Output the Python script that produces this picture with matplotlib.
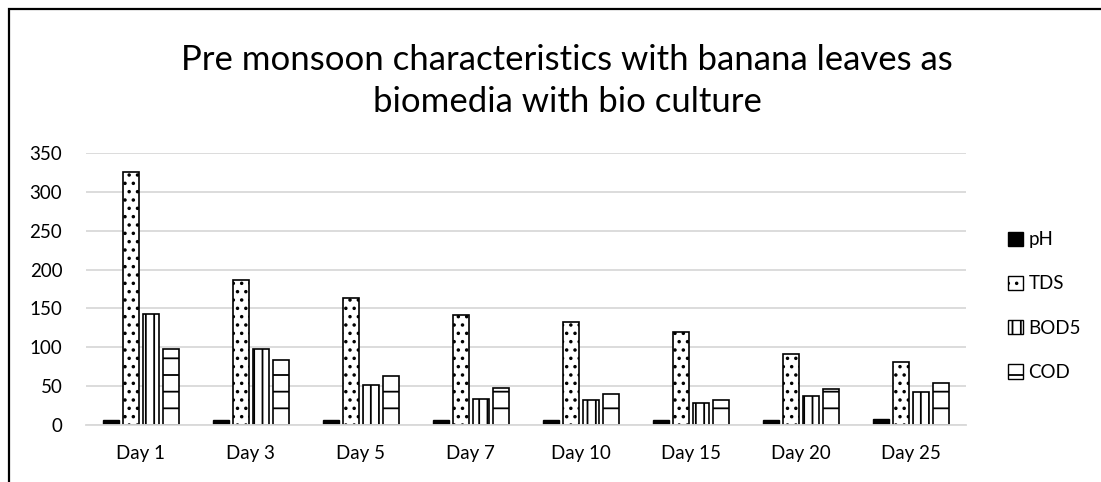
import numpy as np
import matplotlib
matplotlib.use("Agg")
import matplotlib.pyplot as plt
from matplotlib.patches import Patch, Rectangle

days = ["Day 1", "Day 3", "Day 5", "Day 7", "Day 10", "Day 15", "Day 20", "Day 25"]
ph = [7.2, 7.0, 7.0, 7.1, 7.0, 7.0, 7.1, 7.3]
tds = [325, 187, 164, 141, 133, 120, 91, 81]
bod5 = [143, 98, 52, 34, 32, 28, 37, 42]
cod = [98, 84, 63, 48, 40, 32, 47, 54]

series = [("pH", ph, ""), ("TDS", tds, ".."), ("BOD5", bod5, "||"), ("COD", cod, "-")]

plt.rcParams["font.family"] = ["Lato", "DejaVu Sans"]
plt.rcParams["hatch.linewidth"] = 1.3

fig = plt.figure(figsize=(11.01, 4.82), dpi=100)
ax = fig.add_axes([0.078, 0.118, 0.799, 0.565])

x = np.arange(len(days))
width = 0.145
step = 0.182

for i, (name, vals, hatch) in enumerate(series):
    offset = (i - 1.5) * step
    if name == "pH":
        ax.bar(x + offset, vals, width, color="black", edgecolor="black", linewidth=1.0)
    else:
        ax.bar(x + offset, vals, width, color="white", edgecolor="black",
               linewidth=1.2, hatch=hatch)

ax.set_xlim(-0.5, len(days) - 0.5)
ax.set_ylim(0, 350)
ax.set_yticks(range(0, 351, 50))
ax.set_xticks(x)
ax.set_xticklabels(days)
ax.tick_params(axis="both", length=0, labelsize=13.5)
ax.tick_params(axis="x", pad=14)
ax.tick_params(axis="y", pad=17)
ax.yaxis.grid(True, color="#d9d9d9", linewidth=1.3)
ax.set_axisbelow(True)
for side in ["top", "right", "left"]:
    ax.spines[side].set_visible(False)
ax.spines["bottom"].set_color("#d9d9d9")
ax.spines["bottom"].set_linewidth(1.3)

fig.text(0.515, 0.832, "Pre monsoon characteristics with banana leaves as\nbiomedia with bio culture",
         ha="center", va="center", fontsize=25, linespacing=1.4)

handles = []
for name, vals, hatch in series:
    if name == "pH":
        handles.append(Patch(facecolor="black", edgecolor="black", label=name))
    else:
        handles.append(Patch(facecolor="white", edgecolor="black", hatch=hatch, label=name))
fig.legend(handles=handles, loc="center left", bbox_to_anchor=(0.9, 0.365),
           frameon=False, fontsize=13.5, handlelength=0.8, handleheight=0.8,
           handletextpad=0.3, labelspacing=1.45)

# outer chart border (cut off on the right and bottom)
fig.patches.append(Rectangle((9 / 1101, -0.05), 1.1, 1 - 9 / 482 + 0.05,
                             transform=fig.transFigure, fill=False,
                             edgecolor="black", linewidth=1.6))

fig.savefig("out.png", dpi=100)
